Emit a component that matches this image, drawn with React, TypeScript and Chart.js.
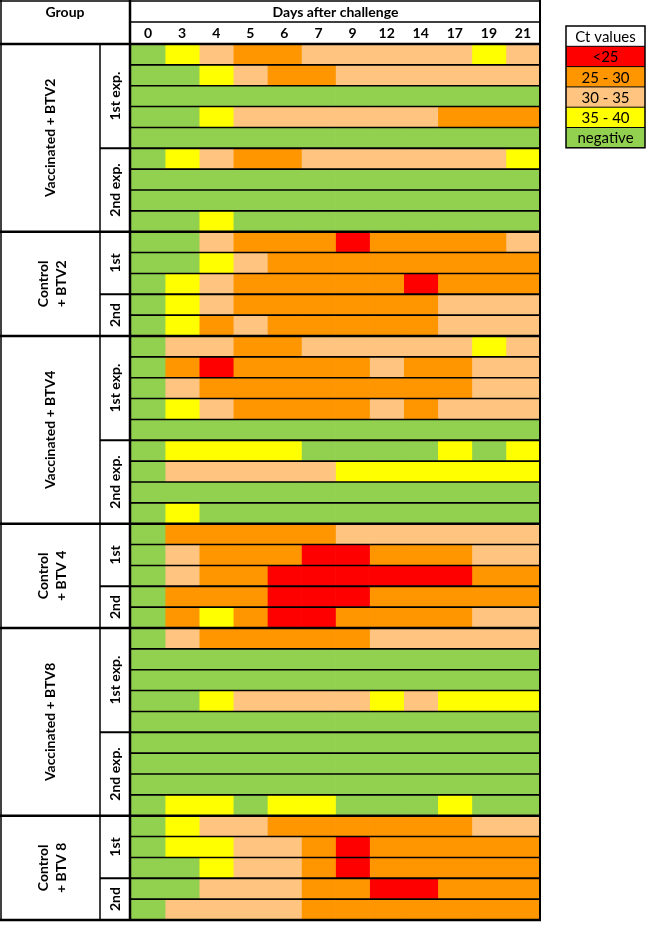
import React, { useEffect, useRef } from 'react';
import { Chart, registerables } from 'chart.js';

Chart.register(...registerables);

// Days after challenge (columns)
const days = ['0', '3', '4', '5', '6', '7', '9', '12', '14', '17', '19', '21'];

// Ct value classes: G = negative, Y = 35-40, P = 30-35, O = 25-30, R = <25
const legendLabels = ['<25', '25 - 30', '30 - 35', '35 - 40', 'negative'];
const legendCodes = ['R', 'O', 'P', 'Y', 'G'];
const ctColors: Record<string, string> = {
  R: '#FF0000',
  O: '#FF9600',
  P: '#FFC47F',
  Y: '#FFFF00',
  G: '#92D050',
};

// One string per animal, one letter per day column
const vaccBTV2_1st = ['GYPOOPPPPPYP', 'GGYPOOPPPPPP', 'GGGGGGGGGGGG', 'GGYPPPPPPOOO', 'GGGGGGGGGGGG'];
const vaccBTV2_2nd = ['GYPOOPPPPPPY', 'GGGGGGGGGGGG', 'GGGGGGGGGGGG', 'GGYGGGGGGGGG'];
const ctrlBTV2_1st = ['GGPOOOROOOOP', 'GGYPOOOOOOOO', 'GYPOOOOOROOO'];
const ctrlBTV2_2nd = ['GYPOOOOOOPPP', 'GYOPOOOOOPPP'];
const vaccBTV4_1st = ['GPPOOPPPPPYP', 'GOROOOOPOOPP', 'GPOOOOOOOOPP', 'GYPOOOOPOPPP', 'GGGGGGGGGGGG'];
const vaccBTV4_2nd = ['GYYYYGGGGYGY', 'GPPPPPYYYYYY', 'GGGGGGGGGGGG', 'GYGGGGGGGGGG'];
const ctrlBTV4_1st = ['GOOOOOPPPPPP', 'GPOOORROOOPP', 'GPOORRRRRROO'];
const ctrlBTV4_2nd = ['GOOORRROOOOO', 'GOYORROOOOPP'];
const vaccBTV8_1st = ['GPOOOOOPPPPP', 'GGGGGGGGGGGG', 'GGGGGGGGGGGG', 'GGYPPPPYPYYY', 'GGGGGGGGGGGG'];
const vaccBTV8_2nd = ['GGGGGGGGGGGG', 'GGGGGGGGGGGG', 'GGGGGGGGGGGG', 'GYYGYYGGGYGG'];
const ctrlBTV8_1st = ['GYPPOOOOOOPP', 'GYYPPOROOOOO', 'GGYPPOROOOOO'];
const ctrlBTV8_2nd = ['GGPPPOORROOO', 'GPPPPOOOOOOO'];

const groupLabels = [
  ['Vaccinated + BTV2'],
  ['Control', '+ BTV2'],
  ['Vaccinated + BTV4'],
  ['Control', '+ BTV 4'],
  ['Vaccinated + BTV8'],
  ['Control', '+ BTV 8'],
];
const groupSubLabels = [
  ['1st exp.', '2nd exp.'],
  ['1st', '2nd'],
  ['1st exp.', '2nd exp.'],
  ['1st', '2nd'],
  ['1st exp.', '2nd exp.'],
  ['1st', '2nd'],
];
const groupRows = [
  [vaccBTV2_1st, vaccBTV2_2nd],
  [ctrlBTV2_1st, ctrlBTV2_2nd],
  [vaccBTV4_1st, vaccBTV4_2nd],
  [ctrlBTV4_1st, ctrlBTV4_2nd],
  [vaccBTV8_1st, vaccBTV8_2nd],
  [ctrlBTV8_1st, ctrlBTV8_2nd],
];

type RowInfo = { codes: string; key: string };
const rows: RowInfo[] = [];
const subStarts: { start: number; end: number; label: string }[] = [];
const groupStarts: { start: number; end: number; label: string[] }[] = [];
groupRows.forEach((subs, gi) => {
  const gStart = rows.length;
  subs.forEach((sub, si) => {
    const sStart = rows.length;
    sub.forEach((codes, ri) => rows.push({ codes, key: `g${gi}-s${si}-r${ri}` }));
    subStarts.push({ start: sStart, end: rows.length, label: groupSubLabels[gi][si] });
  });
  groupStarts.push({ start: gStart, end: rows.length, label: groupLabels[gi] });
});

const FONT = 'Lato, "Open Sans", sans-serif';

const tablePlugin = {
  id: 'tablePlugin',
  afterDraw(chart: any) {
    const { ctx, chartArea, scales } = chart;
    const { left, right, top, bottom } = chartArea;
    const ys = scales.y;
    const xs = scales.x;
    const n = rows.length;
    const edge = (r: number) => {
      if (r <= 0) return top;
      if (r >= n) return bottom;
      return (ys.getPixelForValue(r - 1) + ys.getPixelForValue(r)) / 2;
    };
    const line = (x1: number, y1: number, x2: number, y2: number, w: number) => {
      ctx.beginPath();
      ctx.lineWidth = w;
      ctx.strokeStyle = '#000';
      ctx.moveTo(x1, y1);
      ctx.lineTo(x2, y2);
      ctx.stroke();
    };
    const subX = 100;
    ctx.save();
    const groupEdges = new Set(groupStarts.map((g) => g.start));
    const subEdges = new Set(subStarts.map((s) => s.start));
    for (let r = 1; r < n; r++) {
      const yy = edge(r);
      if (groupEdges.has(r)) line(0, yy, right + 1, yy, 2.5);
      else if (subEdges.has(r)) line(subX, yy, right + 1, yy, 2);
      else line(left, yy, right, yy, 1.6);
    }
    line(0, 1, right + 1, 1, 1.5);
    line(left, 22, right, 22, 1.5);
    line(0, top, right + 1, top, 2.5);
    line(0, bottom, right + 1, bottom, 2.5);
    line(1, 0, 1, bottom + 1, 1.5);
    line(subX, top, subX, bottom, 1.5);
    line(left - 1, 0, left - 1, bottom + 1, 2.5);
    line(right, 0, right, bottom + 1, 2);

    ctx.fillStyle = '#000';
    ctx.textAlign = 'center';
    ctx.textBaseline = 'middle';
    ctx.font = `bold 14px ${FONT}`;
    ctx.fillText('Group', 65, 12);
    ctx.fillText('Days after challenge', (left + right) / 2, 12);
    days.forEach((d, j) => {
      ctx.fillText(d, xs.getPixelForValue(j + 0.5), 33);
    });

    const rotText = (lines: string[], cx: number, cy: number, lh: number) => {
      ctx.save();
      ctx.translate(cx, cy);
      ctx.rotate(-Math.PI / 2);
      lines.forEach((t, i) => {
        ctx.fillText(t, 0, (i - (lines.length - 1) / 2) * lh);
      });
      ctx.restore();
    };
    groupStarts.forEach((g) => {
      const cy = (edge(g.start) + edge(g.end)) / 2;
      rotText(g.label, g.label.length > 1 ? 52 : 50, cy, 18);
    });
    subStarts.forEach((s) => {
      const cy = (edge(s.start) + edge(s.end)) / 2;
      rotText([s.label], (subX + left) / 2, cy, 16);
    });

    const lx0 = 566;
    const lx1 = 645;
    const ly0 = 26;
    const lh = 20.3;
    ctx.font = `15px ${FONT}`;
    ctx.fillStyle = '#fff';
    ctx.fillRect(lx0, ly0, lx1 - lx0, lh);
    ctx.fillStyle = '#000';
    ctx.fillText('Ct values', (lx0 + lx1) / 2, ly0 + lh / 2 + 1);
    legendLabels.forEach((lab, i) => {
      const yy = ly0 + lh * (i + 1);
      ctx.fillStyle = ctColors[legendCodes[i]];
      ctx.fillRect(lx0, yy, lx1 - lx0, lh);
      ctx.fillStyle = '#000';
      ctx.fillText(lab, (lx0 + lx1) / 2, yy + lh / 2 + 1);
    });
    for (let i = 1; i < 6; i++) line(lx0, ly0 + lh * i, lx1, ly0 + lh * i, 1);
    ctx.lineWidth = 1.5;
    ctx.strokeRect(lx0, ly0, lx1 - lx0, lh * 6);
    ctx.restore();
  },
};

export default function App() {
  const ref = useRef<HTMLCanvasElement | null>(null);
  useEffect(() => {
    if (!ref.current) return;
    const datasets = days.map((d, j) => ({
      label: `Day ${d}`,
      data: rows.map(() => 1),
      backgroundColor: rows.map((r) => ctColors[r.codes[j]]),
      borderWidth: 0,
      barPercentage: 1,
      categoryPercentage: 1,
    }));
    const chart = new Chart(ref.current, {
      type: 'bar',
      data: { labels: rows.map((r) => r.key), datasets },
      options: {
        indexAxis: 'y',
        responsive: false,
        devicePixelRatio: 1,
        animation: false,
        layout: { padding: { left: 131, right: 110, top: 44, bottom: 7 } },
        scales: {
          x: { type: 'linear', min: 0, max: days.length, stacked: true, display: false },
          y: { type: 'category', stacked: true, display: false },
        },
        plugins: { legend: { display: false }, tooltip: { enabled: false } },
      },
      plugins: [tablePlugin],
    } as any);
    return () => chart.destroy();
  }, []);
  return (
    <div style={{ position: 'absolute', left: 0, top: 0, width: 650, height: 927, background: '#fff' }}>
      <canvas ref={ref} width={650} height={927} style={{ display: 'block' }} />
    </div>
  );
}
